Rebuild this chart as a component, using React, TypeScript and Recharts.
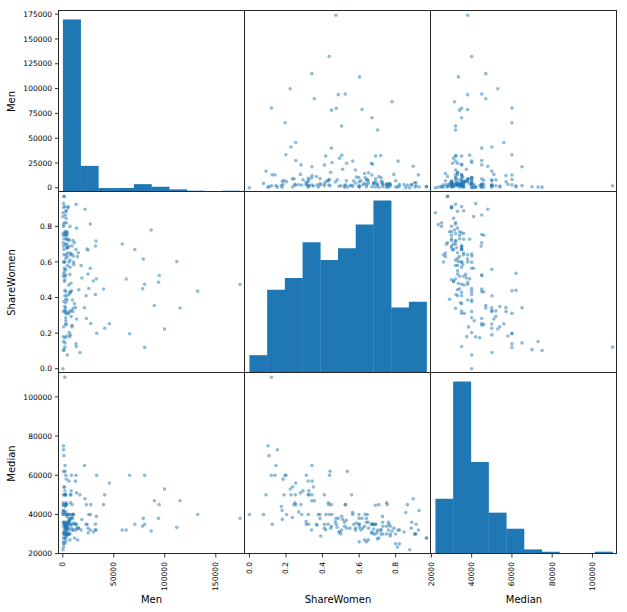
import { Bar, BarChart, Scatter, ScatterChart, XAxis, YAxis } from 'recharts';

const BLUE = '#1f77b4';
const INK = '#000';
const SPINE = '#262626';

// one entry per major (the row with missing counts is left out of the scatters)
const men = [
  2057, 679, 725, 1123, 21239, 2200, 2110, 832, 80320, 65511,
  33258, 12953, 8407, 2949, 3526, 6062, 12453, 45683, 1835, 877,
  99743, 8181, 2020, 13496, 41081, 16820, 7921, 7398, 2639, 2662,
  2695, 1970, 488, 21773, 115030, 89749, 7575, 3477, 528, 2563,
  94519, 39956, 27392, 23080, 3916, 9005, 2960, 2794, 515, 752,
  2400, 803, 500, 3046, 1667, 119, 10345, 9658, 6053, 6200,
  25463, 10392, 894, 124, 4419, 27015, 8697, 132238, 2800, 4300,
  32923, 3872, 173809, 93880, 78857, 7794, 6000, 9000, 9400, 18700,
  6600, 5800, 5813, 6015, 2000, 3400, 1000, 10787, 80231, 70619,
  23736, 32041, 22886, 4266, 13257, 11431, 1900, 2500, 7000, 1488,
  7000, 4500, 3800, 9000, 12862, 78253, 62181, 86648, 58227, 32510,
  26893, 13029, 18000, 31967, 24704, 15204, 15670, 13487, 111762, 29909,
  3240, 24786, 5137, 5166, 885, 5000, 3500, 3000, 7000, 10000,
  8000, 4500, 2000, 1167, 1225, 134, 11376, 14440, 1200, 3000,
  800, 700, 1500, 7000, 3000, 4000, 4600, 700, 2000, 500,
  1100, 3500, 3400, 6000, 6000, 10000, 2000, 4000, 7000, 600,
  3000, 3000, 4600, 7000, 3500, 3000, 2000, 3000, 3000, 4000,
  1500, 2000,
];

const shareWomen = [
  0.121, 0.102, 0.153, 0.107, 0.342, 0.145, 0.441, 0.536, 0.12, 0.196,
  0.199, 0.14, 0.438, 0.311, 0.184, 0.321, 0.343, 0.253, 0.35, 0.236,
  0.223, 0.293, 0.325, 0.279, 0.227, 0.091, 0.325, 0.19, 0.559, 0.342,
  0.251, 0.41, 0.322, 0.896, 0.341, 0.355, 0.431, 0.249, 0.75, 0.864,
  0.524, 0.448, 0.254, 0.282, 0.754, 0.244, 0.526, 0.434, 0.708, 0.689,
  0.174, 0.928, 0.179, 0.269, 0.565, 0.855, 0.633, 0.322, 0.418, 0.203,
  0.451, 0.599, 0.377, 0, 0.077, 0.565, 0.645, 0.436, 0.286, 0.386,
  0.505, 0.728, 0.473, 0.486, 0.616, 0.64, 0.6, 0.235, 0.386, 0.51,
  0.18, 0.31, 0.47, 0.728, 0.52, 0.888, 0.64, 0.585, 0.475, 0.67,
  0.673, 0.69, 0.41, 0.764, 0.125, 0.366, 0.6, 0.324, 0.43, 0.6,
  0.57, 0.65, 0.68, 0.69, 0.67, 0.449, 0.504, 0.78, 0.701, 0.718,
  0.813, 0.924, 0.58, 0.417, 0.532, 0.652, 0.444, 0.79, 0.602, 0.493,
  0.846, 0.667, 0.904, 0.911, 0.906, 0.68, 0.82, 0.885, 0.8, 0.72,
  0.48, 0.63, 0.76, 0.969, 0.968, 0.877, 0.708, 0.63, 0.73, 0.64,
  0.8, 0.81, 0.82, 0.65, 0.7, 0.77, 0.58, 0.6, 0.77, 0.76,
  0.67, 0.73, 0.75, 0.69, 0.72, 0.34, 0.5, 0.41, 0.61, 0.52,
  0.39, 0.62, 0.68, 0.53, 0.7, 0.77, 0.55, 0.75, 0.37, 0.311,
  0.49, 0.912,
];

const median = [
  110000, 75000, 73000, 70000, 65000, 65000, 62000, 62000, 60000, 60000,
  60000, 60000, 60000, 60000, 58000, 57100, 57000, 56000, 54000, 54000,
  53000, 52000, 52000, 51000, 50000, 50000, 50000, 50000, 50000, 50000,
  50000, 50000, 50000, 48000, 47000, 47000, 46000, 46000, 46000, 45000,
  45000, 45000, 45000, 45000, 45000, 45000, 45000, 45000, 45000, 44700,
  44000, 42000, 42000, 41300, 41000, 41000, 40100, 40000, 40000, 40000,
  40000, 40000, 40000, 40000, 40000, 40000, 40000, 40000, 40000, 40000,
  39000, 39000, 38000, 38000, 38000, 38000, 38000, 38400, 38000, 37400,
  37500, 36400, 36200, 36000, 36000, 36000, 36000, 35600, 35000, 35000,
  35000, 35000, 35000, 35000, 35000, 35000, 35000, 35000, 35000, 35000,
  35000, 36000, 35000, 35000, 35000, 34000, 32000, 31500, 32000, 32000,
  32000, 32000, 32000, 32200, 33000, 33000, 33000, 33000, 33400, 31000,
  31000, 30500, 30000, 30000, 30000, 32500, 32000, 33000, 30000, 32100,
  33400, 34000, 32000, 28000, 28000, 22000, 28000, 27000, 30000, 26000,
  25000, 23400, 25000, 27000, 27500, 29000, 33000, 26000, 30000, 36000,
  31000, 34000, 30000, 30000, 30000, 32000, 30000, 33000, 32000, 34000,
  29000, 33000, 30000, 37000, 31000, 34000, 33000, 34000, 34500, 35000,
  31000, 35000,
];

// diagonal histograms, 10 bins each
const menCounts = [132, 20, 3, 3, 6, 4, 2, 1, 0, 1];
const shareCounts = [3, 14, 16, 22, 19, 21, 25, 29, 11, 12];
const medianCounts = [24, 75, 40, 18, 11, 2, 1, 0, 0, 1];

const menTicksLeft = [0, 25000, 50000, 75000, 100000, 125000, 150000, 175000];
const menTicksBottom = [0, 50000, 100000, 150000];
const shareTicks = [0, 0.2, 0.4, 0.6, 0.8];
const medianTicks = [20000, 40000, 60000, 80000, 100000];

// pandas pads each range by 5% in total
const padRange = (vals: number[]): [number, number] => {
  const lo = Math.min(...vals);
  const hi = Math.max(...vals);
  const d = (hi - lo) * 0.025;
  return [lo - d, hi + d];
};

const rows = men.map((m, i) => ({ men: m, share: shareWomen[i], median: median[i] }));

const LEFT = 58.5;
const TOP = 10.5;
const CW = 186;
const CH = 181;
const BOTTOM = 612 - TOP - 3 * CH;
const EXT = 8;
const BIN_PAD = (CW - CW / 1.05) / 2;

const vars = [
  { key: 'men', label: 'Men', domain: padRange(men), counts: menCounts, leftTicks: menTicksLeft, bottomTicks: menTicksBottom, fmt: (v: number) => String(v) },
  { key: 'share', label: 'ShareWomen', domain: padRange(shareWomen), counts: shareCounts, leftTicks: shareTicks, bottomTicks: shareTicks, fmt: (v: number) => v.toFixed(1) },
  { key: 'median', label: 'Median', domain: padRange(median), counts: medianCounts, leftTicks: medianTicks, bottomTicks: medianTicks, fmt: (v: number) => String(v) },
];

function RotTick({ x, y, payload, fmt }: any) {
  return (
    <text x={x} y={y} transform={`rotate(-90 ${x} ${y})`} textAnchor="end" dominantBaseline="central" fontSize={7.6} fill={INK}>
      {fmt(payload.value)}
    </text>
  );
}

function Cell({ row, col }: { row: number; col: number }) {
  const xv = vars[col];
  const yv = vars[row];
  const isLeft = col === 0;
  const isBottom = row === 2;
  const width = (isLeft ? LEFT : EXT) + CW + EXT;
  const height = EXT + CH + (isBottom ? BOTTOM : EXT);
  const margin = { top: EXT, right: EXT, bottom: isBottom ? 0 : EXT, left: isLeft ? 0 : EXT };
  const style: any = { position: 'absolute', left: isLeft ? 0 : LEFT + col * CW - EXT, top: TOP + row * CH - EXT };

  const xLabel = () => (
    <text x={(isLeft ? LEFT : EXT) + CW / 2} y={EXT + CH + 49} textAnchor="middle" fontSize={10} fill={INK}>
      {xv.label}
    </text>
  );
  const yLabel = () => (
    <text x={15.3} y={EXT + CH / 2} transform={`rotate(-90 15.3 ${EXT + CH / 2})`} textAnchor="middle" fontSize={10} fill={INK}>
      {yv.label}
    </text>
  );

  const bottomAxis = (
    <XAxis
      type="number"
      dataKey={xv.key}
      domain={xv.domain}
      allowDataOverflow
      ticks={xv.bottomTicks}
      interval={0}
      height={BOTTOM}
      tickSize={3.5}
      tickMargin={4.5}
      axisLine={false}
      tickLine={{ stroke: INK, strokeWidth: 0.8 }}
      tick={(p: any) => <RotTick {...p} fmt={xv.fmt} />}
      label={xLabel}
    />
  );
  const leftAxis = (id: string | number, withKey: boolean) => (
    <YAxis
      yAxisId={id}
      type="number"
      dataKey={withKey ? yv.key : undefined}
      domain={yv.domain}
      allowDataOverflow
      ticks={yv.leftTicks}
      interval={0}
      width={LEFT}
      tickSize={3.5}
      tickMargin={3}
      axisLine={false}
      tickLine={{ stroke: INK, strokeWidth: 0.8 }}
      tick={{ fill: INK, fontSize: 7.5 }}
      tickFormatter={yv.fmt}
      label={yLabel}
    />
  );
  const hiddenY = <YAxis type="number" dataKey={yv.key} domain={yv.domain} allowDataOverflow hide />;

  if (row === col) {
    const bins = xv.counts.map((c, i) => ({ bin: i, count: c }));
    const top = Math.max(...xv.counts) * 1.05;
    return (
      <div style={style}>
        <BarChart width={width} height={height} margin={{ ...margin, bottom: isBottom ? BOTTOM : EXT }} data={bins} barCategoryGap={0} barGap={0}>
          {isLeft && leftAxis('val', false)}
          <XAxis xAxisId="bin" dataKey="bin" orientation="top" hide padding={{ left: BIN_PAD, right: BIN_PAD }} />
          <YAxis yAxisId="cnt" orientation="right" hide domain={[0, top]} allowDataOverflow />
          <Bar xAxisId="bin" yAxisId="cnt" dataKey="count" fill={BLUE} isAnimationActive={false} />
        </BarChart>
        {isBottom && (
          // the value axis under the last histogram
          <div style={{ position: 'absolute', left: 0, top: 0 }}>
            <ScatterChart width={width} height={height} margin={margin}>
              {bottomAxis}
              {hiddenY}
            </ScatterChart>
          </div>
        )}
      </div>
    );
  }

  return (
    <div style={style}>
      <ScatterChart width={width} height={height} margin={margin}>
        {isBottom ? bottomAxis : <XAxis type="number" dataKey={xv.key} domain={xv.domain} allowDataOverflow hide />}
        {isLeft ? leftAxis(0, true) : hiddenY}
        <Scatter
          data={rows}
          isAnimationActive={false}
          shape={(p: any) => <circle cx={p.cx} cy={p.cy} r={1.8} fill={BLUE} fillOpacity={0.5} />}
        />
      </ScatterChart>
    </div>
  );
}

export default function App() {
  const cells = [];
  for (let r = 0; r < 3; r++) for (let c = 0; c < 3; c++) cells.push(<Cell key={`${r}-${c}`} row={r} col={c} />);

  const lines = [0, 1, 2, 3].flatMap((i) => [
    <div key={`v${i}`} style={{ position: 'absolute', left: LEFT + i * CW - 0.5, top: TOP - 0.5, width: 1, height: 3 * CH + 1, background: SPINE }} />,
    <div key={`h${i}`} style={{ position: 'absolute', left: LEFT - 0.5, top: TOP + i * CH - 0.5, width: 3 * CW + 1, height: 1, background: SPINE }} />,
  ]);

  return (
    <div style={{ position: 'absolute', left: 0, top: 0, width: 627, height: 612, background: '#fff', fontFamily: '"DejaVu Sans", sans-serif' }}>
      {cells}
      {lines}
    </div>
  );
}
